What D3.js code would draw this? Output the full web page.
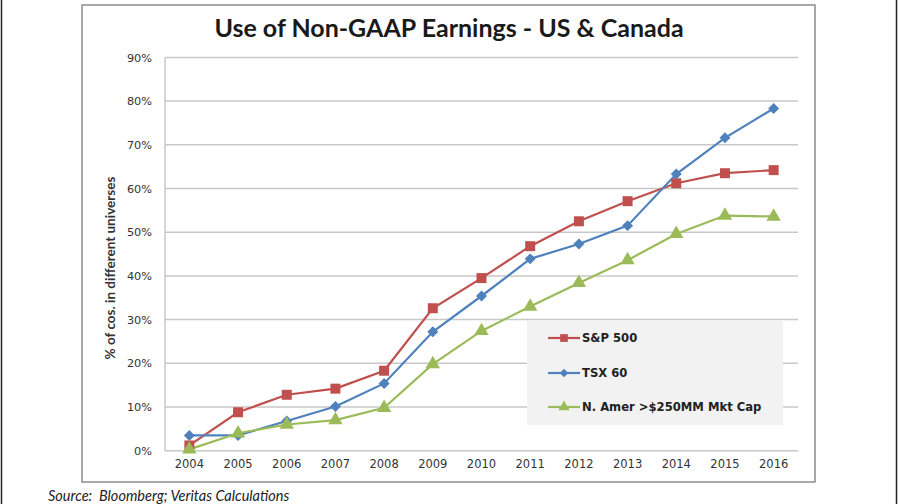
<!DOCTYPE html>
<html><head><meta charset="utf-8">
<script src="https://cdn.jsdelivr.net/npm/d3@7"></script>
<style>body{margin:0;background:#fff;}svg{display:block;font-family:Lato,"Open Sans",sans-serif;}</style>
</head><body>
<svg id="c" width="898" height="504"></svg>
<script>
const years = ["2004","2005","2006","2007","2008","2009","2010","2011","2012","2013","2014","2015","2016"];
const sp500 = [1.2, 8.8, 12.8, 14.2, 18.3, 32.6, 39.5, 46.8, 52.5, 57.1, 61.2, 63.5, 64.2];
const tsx60 = [3.5, 3.5, 6.8, 10.1, 15.4, 27.2, 35.4, 43.9, 47.3, 51.5, 63.3, 71.6, 78.3];
const nAmer = [0.3, 4.0, 6.0, 7.0, 9.8, 19.8, 27.4, 33.0, 38.4, 43.6, 49.6, 53.8, 53.6];
const yTicks = [0,10,20,30,40,50,60,70,80,90];
const seriesNames = ["S&P 500","TSX 60","N. Amer >$250MM Mkt Cap"];

const svg = d3.select("#c");
svg.append("line").attr("x1",1.5).attr("x2",1.5).attr("y1",0).attr("y2",504).attr("stroke","#222").attr("stroke-width",1.5);
svg.append("line").attr("x1",896.5).attr("x2",896.5).attr("y1",0).attr("y2",504).attr("stroke","#222").attr("stroke-width",1.5);
svg.append("rect").attr("x",82).attr("y",5).attr("width",733).attr("height",477).attr("fill","#fff").attr("stroke","#8c8c8c").attr("stroke-width",1.5);

const m = {l:165, r:798, t:57.4, b:450.7};
const x = d3.scaleBand().domain(years).range([m.l, m.r]);
const y = d3.scaleLinear().domain([0,90]).range([m.b, m.t]);
const cx = d => x(d) + x.bandwidth()/2;

svg.append("g").selectAll("line").data(yTicks).join("line")
  .attr("x1",m.l).attr("x2",m.r).attr("y1",d=>y(d)).attr("y2",d=>y(d))
  .attr("stroke","#c8c8c8").attr("stroke-width",1.5);
svg.append("line").attr("x1",m.l).attr("x2",m.l).attr("y1",m.t).attr("y2",m.b).attr("stroke","#c8c8c8").attr("stroke-width",1.5);

const yAxis = d3.axisLeft(y).tickValues(yTicks).tickSize(0).tickPadding(13).tickFormat(d=>d+"%");
const ga = svg.append("g").attr("transform",`translate(${m.l},0)`).call(yAxis);
ga.select(".domain").remove();
ga.selectAll("text").attr("font-size",11.3).attr("fill","#333").attr("font-family","'DejaVu Sans', sans-serif");

const xAxis = d3.axisBottom(x).tickSize(0).tickPadding(9);
const gx = svg.append("g").attr("transform",`translate(0,${m.b})`).call(xAxis);
gx.select(".domain").remove();
gx.selectAll("text").attr("font-size",11.5).attr("fill","#333").attr("font-family","'DejaVu Sans', sans-serif");

svg.append("text").attr("x",449).attr("y",37).attr("text-anchor","middle")
  .attr("font-size",25).attr("font-weight","bold").attr("fill","#1a1a1a").text("Use of Non-GAAP Earnings - US & Canada");

svg.append("text").attr("transform","translate(115,268) rotate(-90)").attr("text-anchor","middle")
  .attr("font-size",13.5).attr("font-weight","bold").attr("fill","#333").text("% of cos. in different universes");

svg.append("rect").attr("x",527).attr("y",320).attr("width",256).attr("height",105).attr("fill","#f2f2f2");

const colors = ["#C0504D","#4F81BD","#9BBB59"];
const data = [sp500, tsx60, nAmer];
const line = d3.line().x((d,i)=>cx(years[i])).y(d=>y(d));

const sym = [d3.symbolSquare, d3.symbolSquare, d3.symbolTriangle];
const rot = [0, 45, 0];
const symSize = [100, 60, 90];

data.forEach((s,k)=>{
  svg.append("path").datum(s).attr("d",line).attr("fill","none").attr("stroke",colors[k]).attr("stroke-width",2.2);
});
data.forEach((s,k)=>{
  svg.append("g").selectAll("path").data(s).join("path")
    .attr("transform",(d,i)=>`translate(${cx(years[i])},${y(d)}) rotate(${rot[k]})`)
    .attr("d",d3.symbol().type(sym[k]).size(symSize[k]))
    .attr("fill",colors[k]);
});

const ly = [338, 373, 407];
seriesNames.forEach((n,k)=>{
  svg.append("line").attr("x1",548).attr("x2",580).attr("y1",ly[k]).attr("y2",ly[k]).attr("stroke",colors[k]).attr("stroke-width",2.2);
  svg.append("path").attr("transform",`translate(564,${ly[k]}) rotate(${rot[k]})`).attr("d",d3.symbol().type(sym[k]).size(symSize[k]*0.6)).attr("fill",colors[k]);
  svg.append("text").attr("x",582).attr("y",ly[k]+4).attr("font-size",11.6).attr("font-weight","bold").attr("fill","#222")
    .attr("font-family","'DejaVu Sans', sans-serif").text(n);
});

svg.append("text").attr("x",48).attr("y",501).attr("font-size",14.5).attr("font-style","italic").attr("fill","#222")
  .style("white-space","pre").text("Source:  Bloomberg; Veritas Calculations");
</script>
</body></html>
